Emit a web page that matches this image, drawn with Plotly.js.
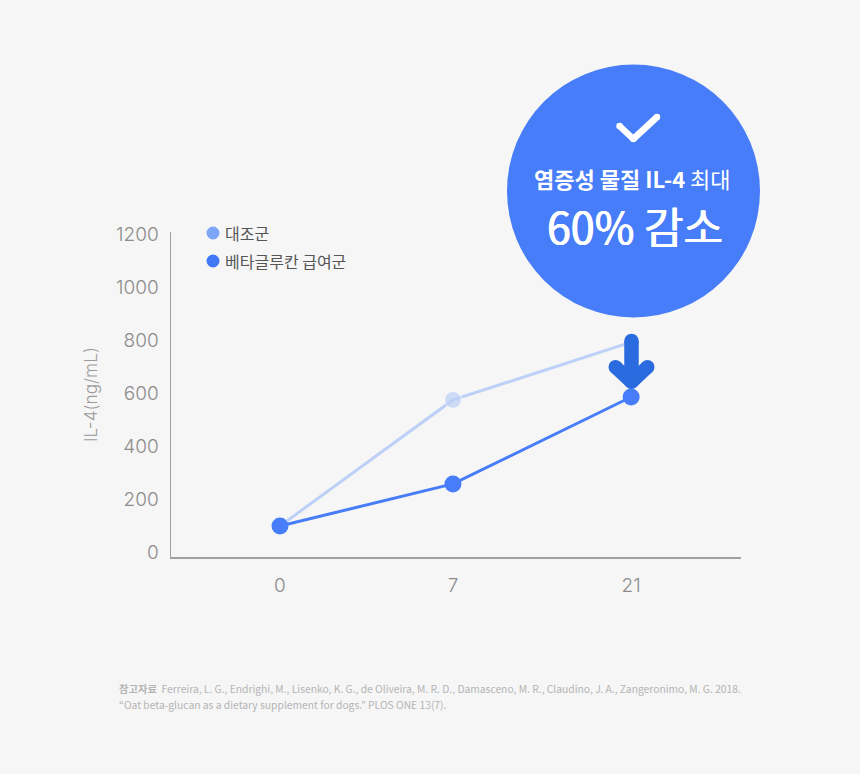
<!DOCTYPE html>
<html><head><meta charset="utf-8">
<script src="https://cdn.plot.ly/plotly-3.0.1.min.js"></script>
<style>html,body{margin:0;padding:0;background:#f6f6f6}#c{width:860px;height:774px}</style>
</head><body><div id="c"></div>
<script>
const W = 860, H = 774;
const days = ['0', '7', '21'];
const dayPositions = [0, 1, 2.03];
const controlName = '대조군';
const treatedName = '베타글루칸 급여군';
const controlValues = [98, 574, 792];
const treatedValues = [98, 257, 585];
const yTicks = [0, 200, 400, 600, 800, 1000, 1200];
const KR = '"Noto Sans CJK KR","Noto Sans",sans-serif';
const NUM = 'Inter,"Noto Sans CJK KR",sans-serif';
const px = x => x / W, py = y => 1 - y / H;

function pline(x0, y0, x1, y1, color, w) {
  return {type:'line', xref:'paper', yref:'paper', x0:px(x0), y0:py(y0), x1:px(x1), y1:py(y1), line:{color, width:w}};
}
function pdot(cx, cy, r, color) {
  return {type:'circle', xref:'paper', yref:'paper', x0:px(cx-r), x1:px(cx+r), y0:py(cy+r), y1:py(cy-r), fillcolor:color, line:{width:0}};
}
function stroke(pts, w, color) {
  const out = [];
  for (let i = 0; i < pts.length - 1; i++) out.push(pline(pts[i][0], pts[i][1], pts[i+1][0], pts[i+1][1], color, w));
  pts.forEach(p => out.push(pdot(p[0], p[1], w/2, color)));
  return out;
}
function note(x, y, text, size, color, extra) {
  return Object.assign({xref:'paper', yref:'paper', x:px(x), y:py(y), text, showarrow:false, xanchor:'center', yanchor:'middle',
    font:{family:KR, size, color}}, extra || {});
}
const arrowColor = '#2a6be0', badge = '#477df8';
const shapes = [
  pdot(633.5, 191, 126.5, badge),
  ...stroke([[619.5,126],[633.3,139],[657,117]], 6.5, '#ffffff'),
  ...stroke([[631.5,341],[631.5,380]], 14.5, arrowColor),
  ...stroke([[615.5,367],[631.5,382],[647.5,367]], 14, arrowColor),
  pdot(213, 233, 6.5, '#7fa5f9'),
  pdot(213, 261, 6.5, '#4178f5'),
];
const annotations = [
  note(632.5, 178, '<b>염증성 물질 IL-4</b> 최대', 22, '#ffffff'),
  note(634.5, 225, '60% 감소', 43, '#ffffff', {font:{family:KR,size:43,color:'#ffffff',shadow:'0.5px 0 0 #ffffff, -0.5px 0 0 #ffffff'}}),
  note(223, 233, controlName, 16, '#555555', {xanchor:'left'}),
  note(223, 261, treatedName, 16, '#555555', {xanchor:'left'}),
  note(117, 688, '<b>참고자료</b>  Ferreira, L. G., Endrighi, M., Lisenko, K. G., de Oliveira, M. R. D., Damasceno, M. R., Claudino, J. A., Zangeronimo, M. G. 2018.', 10.3, '#b4b4b4', {xanchor:'left'}),
  note(117, 704, '“Oat beta-glucan as a dietary supplement for dogs.” PLOS ONE 13(7).', 10.3, '#b4b4b4', {xanchor:'left'}),
];
const traces = [
  {x:dayPositions, y:controlValues, name:controlName, mode:'lines+markers', line:{color:'#bdd0f7', width:3},
   marker:{color:'#bdd0f7', size:[17,17,0]}, hoverinfo:'x+y'},
  {x:dayPositions, y:treatedValues, name:treatedName, mode:'lines+markers', line:{color:badge, width:3},
   marker:{color:badge, size:17}, hoverinfo:'x+y'},
];
const layout = {
  width:W, height:H, margin:{l:0,r:0,t:0,b:0,pad:0}, paper_bgcolor:'#f6f6f6', plot_bgcolor:'#f6f6f6', showlegend:false,
  font:{family:KR},
  xaxis:{domain:[px(171),px(741)], range:[-0.63,2.665], tickmode:'array', tickvals:dayPositions, ticktext:days, showgrid:false, zeroline:false,
    showline:true, linecolor:'#a0a0a0', linewidth:1.5, ticks:'', ticklabelstandoff:11, tickfont:{family:NUM,size:19,color:'#8c8c8c',weight:300}},
  yaxis:{domain:[py(557),py(232)], range:[-19,1208], tickmode:'array', tickvals:yTicks, showgrid:false, zeroline:false,
    showline:true, linecolor:'#a0a0a0', linewidth:1.5, ticks:'', ticklabelstandoff:7, tickfont:{family:NUM,size:19,color:'#8c8c8c',weight:300},
    title:{text:'IL-4(ng/mL)', standoff:14, font:{family:NUM,size:17.3,color:'#9a9a9a',weight:300}}},
  shapes, annotations
};
Plotly.newPlot('c', traces, layout, {displayModeBar:false, staticPlot:true});
</script></body></html>
